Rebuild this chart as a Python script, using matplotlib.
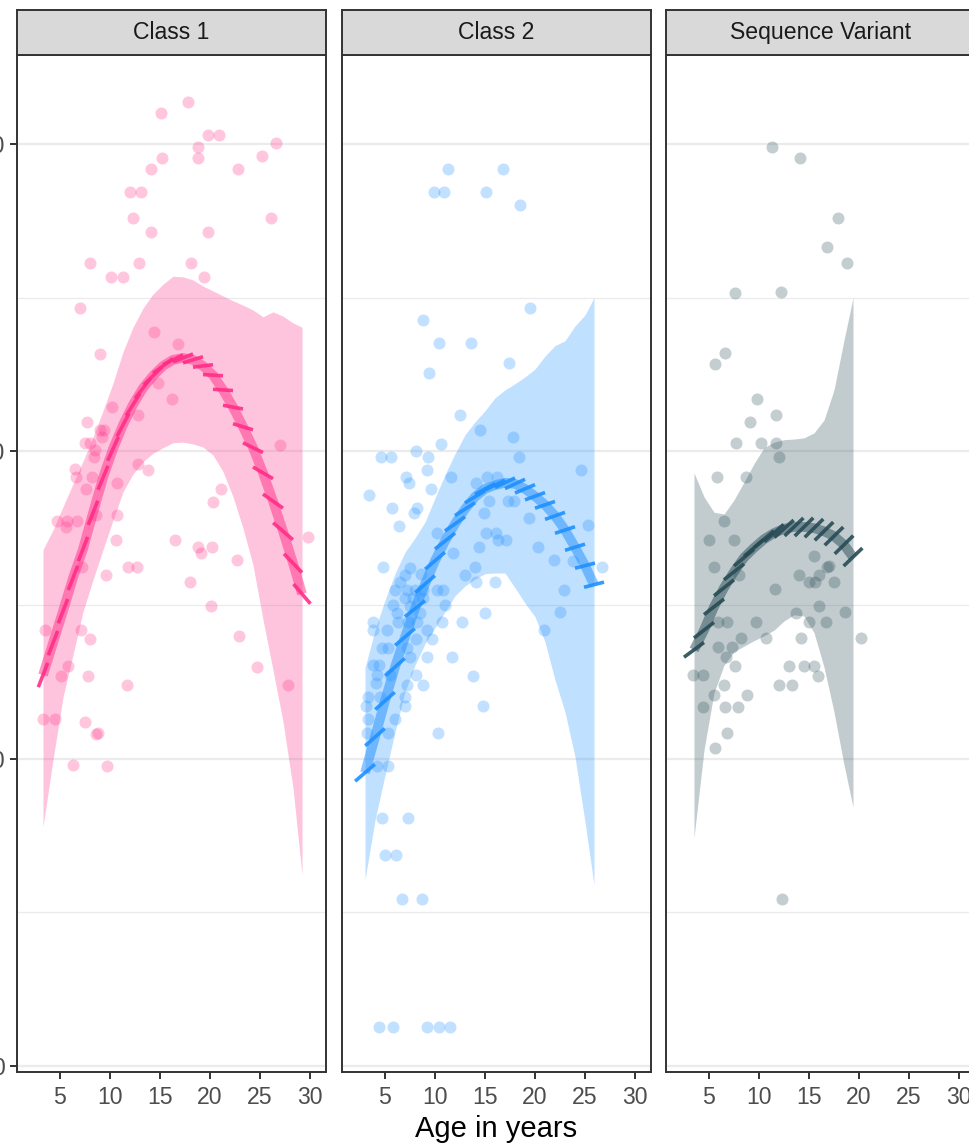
import numpy as np
import matplotlib.pyplot as plt
from matplotlib.collections import LineCollection

plt.rcParams['font.family'] = ['Liberation Sans', 'DejaVu Sans']

panel_titles = ['Class 1', 'Class 2', 'Sequence Variant']
panel_colors = ['#FF2D87', '#1E90FF', '#274B55']
x_ticks = [5, 10, 15, 20, 25, 30]
y_ticks = [0, 50, 100, 150]
y_minor = [25, 75, 125]

# ---- Class 1 ----
c1_obs_age = [17.8, 15.1, 19.8, 20.9, 18.8, 26.6, 15.2, 18.8, 25.2, 14.1,
              22.8, 12.0, 13.1, 12.3, 26.1, 14.1, 19.8, 8.0, 12.9, 18.1,
              10.1, 11.3, 19.4, 7.0, 14.4, 16.8, 9.0, 14.8, 16.2, 10.2,
              12.8, 7.7, 9.0, 9.4, 9.2, 7.5, 8.0, 8.5, 27.0, 8.4,
              12.8, 13.8, 6.5, 6.6, 8.2, 10.7, 7.6, 21.1, 20.3, 8.6,
              10.7, 4.7, 5.7, 6.7, 5.6, 10.6, 16.5, 18.8, 20.2, 19.1,
              22.7, 29.8, 7.2, 11.8, 12.7, 9.6, 18.0, 20.1, 3.5, 7.1,
              8.0, 5.8, 5.1, 7.8, 22.9, 24.7, 27.8, 11.7, 3.3, 4.5,
              7.5, 8.6, 8.8, 6.3, 9.7]
c1_obs_val = [156.9, 155.0, 151.4, 151.4, 149.6, 150.1, 147.7, 147.7, 148.0, 146.0,
              146.0, 142.2, 142.2, 138.0, 138.0, 135.7, 135.7, 130.7, 130.7, 130.7,
              128.3, 128.3, 128.3, 123.4, 119.4, 117.5, 115.9, 111.2, 108.5, 107.2,
              105.9, 104.7, 103.5, 103.5, 102.4, 101.3, 101.3, 100.2, 101.0, 99.1,
              98.0, 97.0, 97.1, 95.9, 95.9, 94.9, 93.8, 93.8, 91.8, 89.7,
              89.7, 88.7, 88.7, 88.7, 87.7, 85.6, 85.6, 84.5, 84.5, 83.4,
              82.3, 86.0, 81.1, 81.1, 81.1, 79.9, 78.7, 74.9, 70.9, 70.9,
              69.4, 65.1, 63.5, 63.5, 70.0, 64.9, 61.9, 61.9, 56.4, 56.4,
              56.0, 54.0, 54.2, 48.9, 48.8]
c1_age = [3.3, 4.3, 5.3, 6.3, 7.3, 8.3, 9.3, 10.3, 11.3, 12.3, 13.3, 14.3, 15.3, 16.3,
          17.3, 18.3, 19.3, 20.3, 21.3, 22.3, 23.3, 24.3, 25.3, 26.3, 27.3, 28.3, 29.2]
c1_fit = [63.6, 68.8, 74.0, 79.4, 84.1, 90.0, 95.7, 100.4, 104.3, 107.6, 110.3, 112.3, 113.9, 114.9,
          115.2, 114.9, 113.9, 112.4, 110.0, 107.2, 104.0, 100.6, 96.5, 91.9, 87.0, 81.8, 76.8]
c1_lo = [38.9, 49.8, 60.0, 66.9, 73.9, 79.1, 84.0, 88.8, 93.4, 96.3, 98.3, 99.7, 100.6, 101.4,
         101.5, 101.2, 100.7, 99.4, 96.7, 92.6, 87.5, 81.5, 72.6, 64.4, 56.0, 45.2, 31.1]
c1_hi = [84.0, 87.2, 91.0, 94.7, 98.4, 102.3, 106.6, 111.1, 116.2, 120.2, 123.3, 125.6, 127.2, 128.5,
         128.4, 127.9, 126.9, 126.1, 125.3, 124.5, 123.8, 123.0, 121.9, 122.7, 122.0, 120.9, 120.2]
c1_slope = [4.2, 4.2, 4.2, 4.2, 4.2, 4.1, 3.9, 3.6, 3.1, 2.6, 2.1, 1.6, 1.2, 0.8,
            0.65, 0.5, 0.2, -0.1, -0.1, -0.3, -0.5, -0.8, -0.95, -1.15, -1.4, -1.7, -1.9]

# ---- Class 2 ----
c2_obs_age = [11.3, 16.8, 9.9, 10.9, 15.1, 18.5, 19.5, 8.8, 10.4, 13.6,
              17.4, 9.4, 12.5, 14.5, 17.8, 10.6, 8.1, 4.6, 5.6, 9.3,
              18.4, 9.2, 24.6, 7.1, 7.4, 11.6, 15.2, 16.2, 14.1, 9.6,
              3.4, 15.4, 17.3, 17.9, 5.7, 8.2, 7.9, 14.9, 19.4, 6.4,
              10.2, 15.1, 16.1, 16.3, 17.1, 14.4, 20.3, 25.3, 11.8, 21.9,
              23.8, 26.7, 4.8, 7.5, 14.0, 13.0, 8.6, 7.0, 22.9, 14.1,
              16.0, 6.5, 6.0, 7.2, 8.0, 8.8, 10.2, 10.8, 7.0, 7.8,
              8.8, 5.8, 7.5, 11.0, 6.2, 8.5, 15.0, 22.5, 3.8, 3.8,
              5.2, 6.3, 7.3, 8.2, 10.7, 12.7, 20.9, 9.2, 9.7, 8.1,
              4.7, 5.3, 7.2, 9.2, 11.7, 3.8, 4.4, 7.5, 4.2, 5.5,
              8.1, 13.8, 4.1, 7.2, 8.8, 3.3, 4.5, 7.0, 3.1, 7.0,
              3.3, 6.0, 14.8, 3.2, 5.3, 10.3, 4.2, 5.3, 4.7, 7.3,
              5.0, 6.1, 6.7, 8.7, 4.4, 5.8, 9.2, 10.4, 11.5]
c2_obs_val = [146.0, 146.0, 142.2, 142.2, 142.2, 140.1, 123.4, 121.4, 117.6, 117.6,
              114.3, 112.7, 105.9, 103.5, 102.4, 101.2, 100.1, 99.1, 99.1, 99.1,
              99.1, 97.0, 97.0, 95.9, 94.9, 95.9, 95.9, 95.9, 94.9, 93.8,
              92.9, 91.9, 91.9, 91.9, 90.8, 90.8, 89.9, 89.9, 89.1, 87.8,
              86.7, 86.7, 86.7, 85.6, 85.6, 84.5, 84.5, 88.0, 83.4, 82.3,
              82.1, 81.1, 81.1, 81.0, 81.1, 79.9, 80.0, 79.9, 77.5, 78.8,
              78.8, 78.8, 77.5, 77.5, 77.5, 77.5, 77.5, 77.5, 76.1, 76.1,
              76.1, 75.0, 74.8, 75.0, 73.7, 73.7, 73.7, 73.9, 72.3, 70.9,
              70.9, 72.3, 72.3, 72.3, 72.3, 72.3, 70.9, 70.9, 69.4, 69.4,
              68.0, 68.0, 68.0, 66.6, 66.6, 65.2, 65.2, 66.6, 63.6, 63.6,
              63.6, 63.5, 62.3, 62.0, 62.0, 60.1, 60.1, 60.1, 58.5, 58.5,
              56.4, 56.4, 58.5, 54.2, 54.2, 54.2, 48.8, 48.8, 40.3, 40.3,
              34.3, 34.3, 27.1, 27.1, 6.3, 6.3, 6.3, 6.3, 6.3]
c2_age = [3.0, 4.0, 5.0, 6.0, 7.0, 8.0, 9.0, 10.0, 11.0, 12.0, 13.0, 14.0,
          15.0, 16.0, 17.0, 18.0, 19.0, 20.0, 21.0, 22.0, 23.0, 24.0, 25.0, 25.9]
c2_fit = [47.7, 53.5, 59.4, 64.9, 69.8, 74.4, 78.4, 82.2, 85.4, 88.2, 90.6, 92.6,
          93.9, 94.5, 94.9, 94.7, 93.9, 92.7, 91.3, 89.5, 87.2, 84.4, 81.4, 78.3]
c2_lo = [30.3, 40.0, 47.3, 54.3, 60.9, 65.2, 68.7, 71.3, 73.9, 76.5, 78.1, 79.2,
         80.1, 80.2, 80.2, 77.8, 75.3, 73.1, 69.0, 62.8, 57.6, 50.3, 39.7, 29.5]
c2_hi = [64.8, 70.9, 75.8, 80.1, 83.6, 85.9, 88.5, 92.4, 96.2, 99.6, 102.7, 104.8,
         106.6, 108.7, 110.0, 111.0, 112.1, 113.4, 115.5, 117.2, 118.0, 120.4, 122.2, 125.0]
c2_slope = [1.4, 1.45, 1.45, 1.45, 1.4, 1.3, 1.4, 1.4, 1.3, 1.15, 1.05, 1.0,
            0.9, 0.8, 0.78, 0.76, 0.68, 0.6, 0.55, 0.57, 0.54, 0.5, 0.42, 0.42]

# ---- Sequence Variant ----
sv_obs_age = [11.3, 14.1, 17.9, 16.8, 18.8, 7.6, 12.2, 6.6, 5.6, 9.8,
              11.7, 9.1, 7.7, 10.2, 11.7, 12.0, 5.8, 8.7, 6.5, 5.0,
              7.5, 5.5, 8.0, 15.5, 16.8, 14.0, 16.0, 15.0, 15.6, 17.5,
              17.0, 11.6, 16.0, 18.6, 13.7, 5.9, 6.8, 9.7, 15.0, 16.7,
              8.2, 10.7, 14.2, 20.2, 5.9, 7.3, 6.7, 7.6, 13.0, 14.5,
              15.5, 15.9, 3.4, 4.4, 6.5, 12.0, 13.3, 5.5, 8.8, 4.4,
              6.6, 7.9, 6.8, 5.6, 12.3]
sv_obs_val = [149.6, 147.8, 137.9, 133.2, 130.7, 125.8, 126.0, 116.0, 114.2, 108.6,
              105.9, 104.7, 101.3, 101.3, 101.3, 99.0, 95.9, 95.9, 88.7, 85.6,
              85.6, 81.1, 79.9, 83.0, 81.1, 79.9, 79.9, 78.8, 78.8, 78.8,
              81.3, 77.6, 74.8, 73.9, 73.7, 72.3, 72.3, 72.3, 72.3, 72.3,
              69.6, 69.6, 69.6, 69.6, 68.1, 68.2, 66.6, 65.1, 65.1, 65.1,
              65.1, 63.5, 63.6, 63.6, 62.0, 61.9, 61.9, 60.4, 60.4, 58.4,
              58.4, 58.4, 54.2, 51.8, 27.1]
sv_age = [3.5, 4.5, 5.5, 6.5, 7.5, 8.5, 9.5, 10.5, 11.5, 12.5, 13.5, 14.5,
          15.5, 16.5, 17.5, 18.5, 19.4]
sv_fit = [67.7, 70.9, 74.7, 77.8, 80.4, 82.7, 84.3, 85.7, 86.7, 87.4, 87.7, 87.7,
          87.5, 87.0, 86.2, 84.8, 82.8]
sv_lo = [37.1, 51.4, 60.7, 65.2, 67.4, 68.3, 69.2, 70.0, 70.9, 72.4, 73.4, 73.2,
         70.5, 64.9, 57.6, 49.0, 42.1]
sv_hi = [96.5, 92.6, 90.1, 89.8, 92.1, 95.0, 98.0, 100.6, 101.5, 101.9, 102.0, 102.2,
         103.0, 105.1, 110.0, 118.1, 125.0]
sv_slope = [1.2, 1.27, 1.27, 1.3, 1.3, 1.38, 1.38, 1.38, 1.46, 1.46, 1.55, 1.6,
            1.6, 1.6, 1.6, 1.6, 1.56]

panels = [
    (c1_obs_age, c1_obs_val, c1_age, c1_fit, c1_lo, c1_hi, c1_slope),
    (c2_obs_age, c2_obs_val, c2_age, c2_fit, c2_lo, c2_hi, c2_slope),
    (sv_obs_age, sv_obs_val, sv_age, sv_fit, sv_lo, sv_hi, sv_slope),
]

W, H = 970, 1148
fig = plt.figure(figsize=(W / 100, H / 100), dpi=100)

xlim = (0.7, 31.6)
ylim = (-1.0, 164.5)
panel_left = [17, 342, 666]
panel_w = 309
panel_top, panel_bottom = 55, 1072
strip_h = 45
border = '#333333'


def draw_panel(ax, obs_age, obs_val, age, fit, lo, hi, slope, color):
    ax.set_xlim(*xlim)
    ax.set_ylim(*ylim)
    ax.scatter(obs_age, obs_val, s=75, color=color, alpha=0.27, linewidths=0, zorder=2)
    ax.fill_between(age, lo, hi, color=color, alpha=0.28, linewidth=0, zorder=3)
    ax.plot(age, fit, color=color, lw=7, alpha=0.5, solid_capstyle='butt', zorder=4)

    # short local-slope segments around each fitted point
    pos = ax.get_position()
    ppy = pos.width * W / (xlim[1] - xlim[0])
    ppu = pos.height * H / (ylim[1] - ylim[0])
    segs = []
    for a, m, s in zip(age, fit, slope):
        h = min(1.0, 13.0 / np.hypot(ppy, s * ppu))
        segs.append([(a - h, m - s * h), (a + h, m + s * h)])
    ax.add_collection(LineCollection(segs, colors=color, linewidths=2.6,
                                     alpha=0.9, capstyle='butt', zorder=5))

    ax.set_yticks(y_ticks)
    ax.set_yticks(y_minor, minor=True)
    ax.grid(which='major', axis='y', color='#ebebeb', lw=1.6, zorder=0)
    ax.grid(which='minor', axis='y', color='#ebebeb', lw=0.9, zorder=0)
    ax.set_axisbelow(True)
    ax.set_xticks(x_ticks)
    ax.tick_params(axis='x', length=5, width=1.4, color=border, pad=5,
                   labelsize=16.6, labelcolor='#4d4d4d')
    ax.tick_params(axis='y', which='major', length=5, width=1.4, color=border, pad=4,
                   labelsize=16.6, labelcolor='#4d4d4d')
    ax.tick_params(axis='y', which='minor', length=0)
    for sp in ax.spines.values():
        sp.set_color(border)
        sp.set_linewidth(1.4)


for i, (title, color, data) in enumerate(zip(panel_titles, panel_colors, panels)):
    l = panel_left[i] / W
    w = panel_w / W
    b = (H - panel_bottom) / H
    h = (panel_bottom - panel_top) / H
    ax = fig.add_axes([l, b, w, h])
    draw_panel(ax, *data, color)
    if i > 0:
        ax.tick_params(axis='y', which='both', left=False, labelleft=False)

    sax = fig.add_axes([l, (H - panel_top) / H, w, strip_h / H])
    sax.set_facecolor('#d9d9d9')
    sax.set_xticks([])
    sax.set_yticks([])
    for sp in sax.spines.values():
        sp.set_color(border)
        sp.set_linewidth(1.4)
    sax.text(0.5, 0.5, title, ha='center', va='center', fontsize=16.6,
             color='#1a1a1a', transform=sax.transAxes)

fig.text((panel_left[1] + panel_w / 2) / W, (H - 1129) / H, 'Age in years',
         ha='center', va='center', fontsize=21, color='black')

fig.savefig('out.png', dpi=100)
